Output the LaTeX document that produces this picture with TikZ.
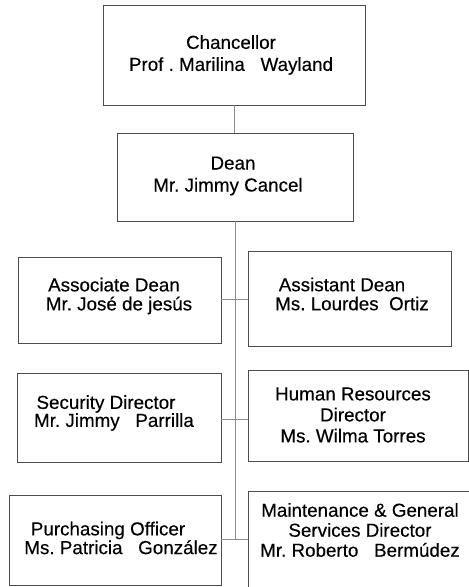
\documentclass[tikz,border=0pt]{standalone}
\usepackage{fontspec}
\setmainfont{Liberation Sans}[FakeBold=0.3]
\frenchspacing
\begin{document}
\begin{tikzpicture}[x=1pt,y=-1pt,
  box/.style={draw=black!70, line width=0.9pt, fill=white, inner sep=0pt},
  txt/.style={inner sep=0pt, align=center, font=\fontsize{18.8}{22}\selectfont},
  link/.style={draw=black!45, line width=0.7pt}]
  \useasboundingbox (0,0) rectangle (469,587);
  \clip (0,0) rectangle (469,587);

  % junction points on the vertical trunk
  \coordinate (j1) at (235,299);
  \coordinate (j2) at (235,419);
  \coordinate (j3) at (235,539);

  % boxes
  \node[box, minimum width=262pt, minimum height=100pt] (chan) at (234,55) {};
  \node[box, minimum width=236pt, minimum height=88pt]  (dean) at (235,177) {};
  \node[box, minimum width=203pt, minimum height=86pt]  (assoc) at (119.5,300) {};
  \node[box, minimum width=203pt, minimum height=95pt]  (asst) at (349.5,298.5) {};
  \node[box, minimum width=204pt, minimum height=89pt]  (secur) at (119,417.5) {};
  \node[box, minimum width=220pt, minimum height=91pt]  (hr) at (358,415.5) {};
  \node[box, minimum width=212pt, minimum height=90pt]  (purch) at (115,540) {};
  \node[box, minimum width=226pt, minimum height=100pt] (maint) at (361,541) {};

  % connectors
  \draw[link] (chan.south) -- (chan.south |- dean.north);
  \draw[link] (dean.south -| j3) -- (j3);
  \draw[link] (assoc.east |- j1) -- (asst.west |- j1);
  \draw[link] (secur.east |- j2) -- (hr.west |- j2);
  \draw[link] (purch.east |- j3) -- (maint.west |- j3);

  % texts
  \node[txt] (chanT) at (231,55) {Chancellor\\Prof . Marilina\ \ \ Wayland};
  \node[txt] (deanT) at (233,176) {Dean\\Mr. Jimmy Cancel\hspace*{10pt}};
  \node[txt, font=\fontsize{18.8}{19}\selectfont] (assocT) at (119,296)
    {Associate Dean\hspace*{10pt}\\Mr. José de jesús};
  \node[txt, font=\fontsize{18.8}{19}\selectfont] (asstT) at (352,294)
    {Assistant Dean\hspace*{20pt}\\Ms. Lourdes\ \ Ortiz};
  \node[txt, font=\fontsize{18.8}{18}\selectfont] (securT) at (114,413)
    {Security Director\hspace*{16pt}\\Mr. Jimmy\ \ \ Parrilla};
  \node[txt, font=\fontsize{18.8}{21}\selectfont] (hrT) at (353,415)
    {Human Resources\\Director\hspace*{18pt}\\Ms. Wilma Torres};
  \node[txt, font=\fontsize{18.8}{17.5}\selectfont] (purchT) at (121,538)
    {Purchasing Officer\hspace*{26pt}\\Ms. Patricia\ \ \ González};
  \node[txt, font=\fontsize{18.8}{20}\selectfont] (maintT) at (360,530)
    {Maintenance \& General\\Services Director\hspace*{12pt}\\Mr. Roberto\ \ \ Bermúdez};
\end{tikzpicture}
\end{document}
